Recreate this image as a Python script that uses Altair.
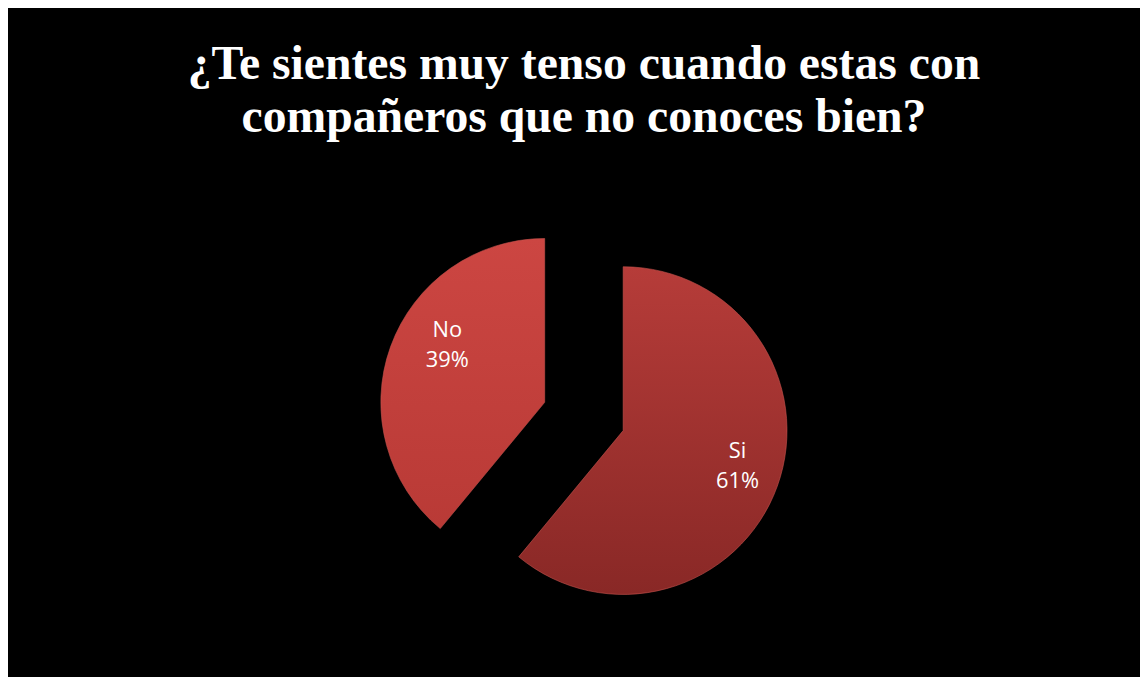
import altair as alt
import pandas as pd

categories = ["Si", "No"]
values = [61, 39]
order_idx = [0, 1]
labels = ["Si\n61%", "No\n39%"]

df = pd.DataFrame({"cat": categories, "value": values, "idx": order_idx, "label": labels})

PAD_TOP = 31
TITLE_BLOCK = 112
W = 1140
H = 669 - PAD_TOP - TITLE_BLOCK
CX = 580
CY = 417 - 8 - PAD_TOP - TITLE_BLOCK
R = 165
EXPLODE = 42
LABEL_R = 116.5
LABEL_ROT = 0.07

base = alt.Chart(df).transform_joinaggregate(
    total="sum(value)"
).transform_window(
    cum="sum(value)", sort=[alt.SortField("idx")]
).transform_calculate(
    a0="(datum.cum - datum.value) / datum.total * 2 * PI",
    a1="datum.cum / datum.total * 2 * PI",
    mid="(datum.cum - datum.value / 2) / datum.total * 2 * PI",
).transform_calculate(
    ex=f"{EXPLODE} * sin(datum.mid)",
    ey=f"-{EXPLODE} * cos(datum.mid)",
    lmid=f"datum.mid + {LABEL_ROT}",
)

xenc = alt.X("ex:Q", scale=alt.Scale(domain=[-CX, W - CX]), axis=None)
yenc = alt.Y("ey:Q", scale=alt.Scale(domain=[-CY, H - CY], reverse=True), axis=None)

grad = {
    "Si": ("#b63c39", "#892826"),
    "No": ("#cc4642", "#b93a36"),
}

layers = []
for c in categories:
    g = alt.Gradient(
        gradient="linear",
        stops=[alt.GradientStop(color=grad[c][0], offset=0),
               alt.GradientStop(color=grad[c][1], offset=1)],
        x1=0, x2=0, y1=0, y2=1,
    )
    layers.append(
        base.transform_filter(alt.datum.cat == c).mark_arc(
            outerRadius=R, fill=g, stroke="#c5524d", strokeWidth=1, strokeOpacity=0.6
        ).encode(
            x=xenc, y=yenc,
            theta=alt.Theta("a0:Q", scale=None),
            theta2=alt.Theta2("a1:Q"),
        )
    )

text = base.mark_text(
    radius=LABEL_R, font="Open Sans", fontSize=22, color="white",
    lineBreak="\n", lineHeight=30, align="center", baseline="middle",
    dx=8.5, dy=-26,
).encode(
    x=xenc, y=yenc,
    theta=alt.Theta("lmid:Q", scale=None),
    text="label:N",
)

chart = alt.layer(*layers, text).properties(
    width=W, height=H,
    background="black",
    padding={"top": PAD_TOP, "left": 0, "right": 0, "bottom": 0},
    title=alt.TitleParams(
        text=["¿Te sientes muy tenso cuando estas con", "compañeros que no conoces bien?"],
        font="Liberation Serif", fontSize=48, fontWeight="bold", color="white",
        lineHeight=54, anchor="middle", dx=10, offset=10,
    ),
).configure_view(stroke=None)

chart.save("out.html", embed_options={"renderer": "svg", "actions": False})
